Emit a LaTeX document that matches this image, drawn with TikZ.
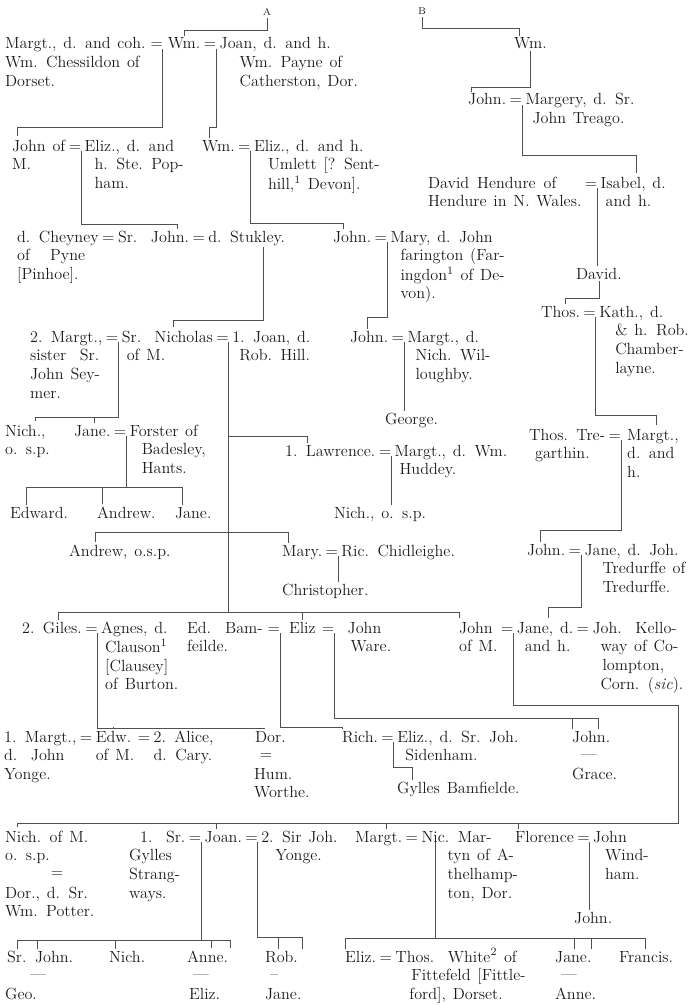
\documentclass[tikz,border=0pt]{standalone}
\usepackage{tikz}
\usetikzlibrary{positioning}
\definecolor{ink}{HTML}{1C1C1C}
\definecolor{rule}{HTML}{505050}
\newdimen\pxu \pxu=0.025cm
\newcommand{\indentby}[1]{\hspace*{#1\pxu}}
\newcommand{\pedfont}{\fontsize{11.5}{13.4}\selectfont\spaceskip=0.42em plus 0.1em minus 0.05em\relax}
\newcommand{\pedlines}[1]{\begin{tabular}[t]{@{}l@{}}#1\end{tabular}}

\begin{document}
\begin{tikzpicture}[
    x=0.025cm, y=-0.025cm,
    person/.style={anchor=base west, inner sep=0pt, outer sep=1.5pt, text=ink, font=\pedfont},
    wed/.style={anchor=base west, inner sep=0pt, outer sep=0pt, text=ink, font=\pedfont},
    tag/.style={inner sep=0pt, outer sep=2pt, text=ink, font=\fontsize{7}{8}\selectfont},
    link/.style={draw=rule, line width=0.5pt}
]
    \useasboundingbox (0,0) rectangle (692,1005);

    % Heads
    \node[tag] (hA) at (267,12) {A};
    \node[tag] (hB) at (422,11) {B};

    % Line A
    \node[person] (margtC) at (3,49) {\pedlines{Margt., d. and coh.\\Wm. Chessildon of\\Dorset.}};
    \node[wed, base right=2pt of margtC] (w1) {=};
    \node[person, base right=2pt of w1] (wmA) {Wm.};
    \node[wed, base right=1pt of wmA] (w2) {=};
    \node[person, base right=1pt of w2] (joanP) {\pedlines{Joan, d. and h.\\\indentby{20}Wm. Payne of\\\indentby{20}Catherston, Dor.}};

    \node[person] (johnM1) at (10,151) {\pedlines{John of\\M.}};
    \node[wed, base right=1pt of johnM1] (w3) {=};
    \node[person, base right=1pt of w3] (elizP) {\pedlines{Eliz., d. and\\\indentby{10}h. Ste. Pop-\\\indentby{10}ham.}};
    \node[person] (wmU) at (200,151) {Wm.};
    \node[wed, base right=1pt of wmU] (w4) {=};
    \node[person, base right=1pt of w4] (elizU) {\pedlines{Eliz., d. and h.\\\indentby{14}Umlett [? Sent-\\\indentby{14}hill,\textsuperscript{1} Devon].}};

    \node[person] (cheyney) at (15,242) {\pedlines{d. Cheyney\\of\ \ \ Pyne\\{[}Pinhoe].}};
    \node[wed, base right=1pt of cheyney] (w10) {=};
    \node[person, base right=1pt of w10] (johnS) {Sr.\ \ John.};
    \node[wed, base right=1pt of johnS] (w11) {=};
    \node[person, base right=1pt of w11] (stukley) {d. Stukley.};
    \node[person] (johnF) at (331,242) {John.};
    \node[wed, base right=1pt of johnF] (w12) {=};
    \node[person, base right=1pt of w12] (maryF) {\pedlines{Mary, d. John\\\indentby{10}farington (Far-\\\indentby{10}ingdon\textsuperscript{1} of De-\\\indentby{10}von).}};

    \node[person] (margtS) at (28,342) {\pedlines{2. Margt.,\\sister\ \ Sr.\\John Sey-\\mer.}};
    \node[wed, base right=1pt of margtS] (w13) {=};
    \node[person, base right=1pt of w13] (nicholas) {\pedlines{Sr.\ \ Nicholas\\\indentby{5}of M.}};
    \node[wed, base right=1pt of nicholas] (w14) {=};
    \node[person, base right=1pt of w14] (joanH) {\pedlines{1. Joan, d.\\\indentby{7}Rob. Hill.}};
    \node[person] (johnW) at (348,342) {John.};
    \node[wed, base right=1pt of johnW] (w15) {=};
    \node[person, base right=1pt of w15] (margtW) {\pedlines{Margt., d.\\\indentby{8}Nich. Wil-\\\indentby{8}loughby.}};
    \node[person] (george) at (383,424) {George.};

    \node[person] (nichS) at (3,436) {\pedlines{Nich.,\\o. s.p.}};
    \node[person] (janeF) at (72,436) {Jane.};
    \node[wed, base right=1pt of janeF] (w16) {=};
    \node[person, base right=1pt of w16] (forster) {\pedlines{Forster of\\\indentby{12}Badesley,\\\indentby{12}Hants.}};
    \node[person] (lawrence) at (283,456) {1. Lawrence.};
    \node[wed, base right=1pt of lawrence] (w17) {=};
    \node[person, base right=1pt of w17] (margtH) {\pedlines{Margt., d. Wm.\\\indentby{5}Huddey.}};

    \node[person] (edward) at (8,518) {Edward.};
    \node[person] (andrewF) at (95,518) {Andrew.};
    \node[person] (janeFo) at (173,518) {Jane.};
    \node[person] (nichL) at (332,518) {Nich., o. s.p.};
    \node[person] (andrewN) at (67,556) {Andrew, o.s.p.};
    \node[person] (maryN) at (280,556) {Mary.};
    \node[wed, base right=1pt of maryN] (w18) {=};
    \node[person, base right=1pt of w18] (ricC) {Ric. Chidleighe.};
    \node[person] (christopher) at (280,595) {Christopher.};

    \node[person] (giles) at (20,633) {2. Giles.};
    \node[wed, base right=1pt of giles] (w19) {=};
    \node[person, base right=1pt of w19] (agnes) {\pedlines{Agnes, d.\\\indentby{4}Clauson\textsuperscript{1}\\\indentby{4}{[}Clausey]\\\indentby{4}of Burton.}};
    \node[person] (edB) at (185,633) {\pedlines{Ed.\hspace{14\pxu}Bam-\\feilde.}};
    \node[wed, base right=2pt of edB] (w20) {=};
    \node[person, base right=5pt of w20] (elizN) {Eliz};
    \node[wed, base right=3pt of elizN] (w21) {=};
    \node[person, base right=8pt of w21] (johnWa) {\pedlines{John\\\indentby{3}Ware.}};
    \node[person] (johnM2) at (457,633) {\pedlines{John\\of M.}};
    \node[wed, base right=1pt of johnM2] (w22) {=};
    \node[person, base right=1pt of w22] (janeTr) {\pedlines{Jane, d.\\\indentby{8}and h.}};
    \node[wed, base right=1pt of janeTr] (w23) {=};
    \node[person, base right=1pt of w23] (kelloway) {\pedlines{Joh.\ \ Kello-\\\indentby{8}way of Co-\\\indentby{10}lompton,\\\indentby{8}Corn. (\textit{sic}).}};

    \node[person] (margtY) at (2,742) {\pedlines{1. Margt.,\\d.\ \ John\\Yonge.}};
    \node[wed, base right=1pt of margtY] (w24) {=};
    \node[person, base right=1pt of w24] (edw) {\pedlines{Edw.\\of M.}};
    \node[wed, base right=1pt of edw] (w25) {=};
    \node[person, base right=1pt of w25] (alice) {\pedlines{2. Alice,\\d. Cary.}};
    \node[person] (dorG) at (253,742) {Dor.};
    \node[wed, anchor=center] (w26) at (266,757) {=};
    \node[person] (worthe) at (252,779) {\pedlines{Hum.\\Worthe.}};
    \node[person] (rich) at (340,742) {Rich.};
    \node[wed, base right=1pt of rich] (w27) {=};
    \node[person, base right=1pt of w27] (elizS) {\pedlines{Eliz., d. Sr. Joh.\\\indentby{8}Sidenham.}};
    \node[person] (gylles) at (395,793) {Gylles Bamfielde.};
    \node[person] (johnG) at (570,742) {John.};
    \node[wed, anchor=center] (w28) at (589,757) {---};
    \node[person] (grace) at (570,779) {Grace.};

    \node[person] (nichM) at (3,842) {\pedlines{Nich. of M.\\o. s.p.}};
    \node[wed, anchor=center] (w29) at (57,875) {=};
    \node[person] (dorP) at (3,898) {\pedlines{Dor., d. Sr.\\Wm. Potter.}};
    \node[person] (gyllesS) at (127,842) {\pedlines{\indentby{11}1.\ \ Sr.\\Gylles\\Strang-\\ways.}};
    \node[wed, base right=1pt of gyllesS] (w30) {=};
    \node[person, base right=1pt of w30] (joanM) {Joan.};
    \node[wed, base right=1pt of joanM] (w31) {=};
    \node[person, base right=1pt of w31] (johnY) {\pedlines{2. Sir Joh.\\\indentby{14}Yonge.}};
    \node[person] (margtM) at (353,842) {Margt.};
    \node[wed, base right=1pt of margtM] (w32) {=};
    \node[person, base right=1pt of w32] (martyn) {\pedlines{Nic. Mar-\\\indentby{26}tyn of A-\\\indentby{26}thelhamp-\\\indentby{26}ton, Dor.}};
    \node[person] (florence) at (513,842) {Florence};
    \node[wed, base right=1pt of florence] (w33) {=};
    \node[person, base right=1pt of w33] (windham) {\pedlines{John\\\indentby{12}Wind-\\\indentby{12}ham.}};
    \node[person] (johnWi) at (572,923) {John.};

    \node[person] (johnSt) at (5,962) {Sr. John.};
    \node[wed, anchor=center] (w34) at (38,977) {---};
    \node[person] (geo) at (3,999) {Geo.};
    \node[person] (nichSt) at (107,962) {Nich.};
    \node[person] (anneS) at (185,962) {Anne.};
    \node[wed, anchor=center] (w35) at (201,977) {---};
    \node[person] (elizSt) at (187,999) {Eliz.};
    \node[person] (rob) at (263,962) {Rob.};
    \node[wed, anchor=center] (w36) at (274,977) {--};
    \node[person] (janeY) at (263,999) {Jane.};
    \node[person] (elizM) at (343,962) {Eliz.};
    \node[wed, base right=1pt of elizM] (w37) {=};
    \node[person, base right=1pt of w37] (thosW) {\pedlines{Thos.\ \ White\textsuperscript{2} of\\\indentby{16}Fittefeld [Fittle-\\\indentby{14}ford], Dorset.}};
    \node[person] (janeM) at (553,962) {Jane.};
    \node[wed, anchor=center] (w38) at (569,977) {---};
    \node[person] (anneM) at (553,999) {Anne.};
    \node[person] (francis) at (617,962) {Francis.};

    % Line B
    \node[person] (wmB) at (512,49) {Wm.};
    \node[person] (johnB) at (466,105) {John.};
    \node[wed, base right=1pt of johnB] (w5) {=};
    \node[person, base right=1pt of w5] (margeryT) {\pedlines{Margery, d. Sr.\\\indentby{7}John Treago.}};
    \node[person] (davidH) at (426,188) {\pedlines{David\hspace{8\pxu}Hendure\hspace{8\pxu}of\\Hendure in N. Wales.}};
    \node[wed, base right=1pt of davidH] (w6) {=};
    \node[person, base right=1pt of w6] (isabelT) {\pedlines{Isabel, d.\\\indentby{5}and h.}};
    \node[person] (davidB) at (574,279) {David.};
    \node[person] (thosB) at (539,317) {Thos.};
    \node[wed, base right=1pt of thosB] (w7) {=};
    \node[person, base right=1pt of w7] (kathC) {\pedlines{Kath., d.\\\indentby{16}\& h. Rob.\\\indentby{16}Chamber-\\\indentby{16}layne.}};
    \node[person] (thosT) at (527,440) {\pedlines{Thos. Tre-\\\indentby{6}garthin.}};
    \node[wed, base right=1pt of thosT] (w8) {=};
    \node[person, base right=3pt of w8] (margtB) {\pedlines{Margt.,\\d. and\\h.}};
    \node[person] (johnT) at (525,555) {John.};
    \node[wed, base right=1pt of johnT] (w9) {=};
    \node[person, base right=1pt of w9] (janeT) {\pedlines{Jane, d. Joh.\\\indentby{18}Tredurffe of\\\indentby{18}Tredurffe.}};

    % Descents, line A
    \coordinate (m11) at ([xshift=12pt]stukley.south);
    \coordinate (m32) at ([xshift=12pt]w32.south east);
    \draw[link] (hA.south) -- (hA.south |- 0,30) -| (wmA.north);
    \draw[link] (w1.south east) -- (w1.south east |- 0,127) -| ([xshift=5pt]johnM1.north west);
    \draw[link] (w2.south east) -- (w2.south east |- 0,127) -| ([xshift=7pt]wmU.north west);
    \draw[link] (w3.south east) -- (w3.south east |- 0,224) -| ([xshift=-10pt]johnS.north east);
    \draw[link] (w4.south east) -- (w4.south east |- 0,223) -| ([xshift=9pt]johnF.north west);
    \draw[link] (m11) -- (m11 |- 0,320) -| ([xshift=38pt]nicholas.north west);
    \draw[link] (w12.south east) -- (w12.south east |- 0,317) -| ([xshift=14pt]johnW.north west);
    \draw[link] (w13.south east) -- (w13.south east |- 0,417) -| ([xshift=23pt]nichS.north west);
    \draw[link] (w13.south east) -- (w13.south east |- 0,417) -| ([xshift=16pt]janeF.north west);
    \draw[link] (w14.south east) -- (w14.south east |- 0,436) -| ([xshift=17pt]lawrence.north west);
    \draw[link] (w14.south east) -- (w14.south east |- 0,532) -| ([xshift=20pt]andrewN.north west);
    \draw[link] (w14.south east) -- (w14.south east |- 0,532) -| ([xshift=6pt]maryN.north west);
    \draw[link] (w14.south east) -- (w14.south east |- 0,612) -| ([xshift=27pt]giles.north west);
    \draw[link] (w14.south east) -- (w14.south east |- 0,612) -| (elizN.north);
    \draw[link] (w14.south east) -- (w14.south east |- 0,612) -| ([xshift=2pt]johnM2.north west);
    \draw[link] (w15.south east) -- (george.north -| w15.south east);
    \draw[link] (w16.south east) -- (w16.south east |- 0,487) -| ([xshift=13pt]edward.north west);
    \draw[link] (w16.south east) -- (w16.south east |- 0,487) -| ([xshift=5pt]andrewF.north west);
    \draw[link] (w16.south east) -- (w16.south east |- 0,487) -| ([xshift=7pt]janeFo.north west);
    \draw[link] (w17.south east) -- (nichL.north -| w17.south east);
    \draw[link] (w18.south east) -- (christopher.north -| w18.south east);
    \draw[link] (w19.south east) -- (w19.south east |- 0,728) -| ([xshift=14pt]edw.north west);
    \draw[link] (w19.south east) -- (w19.south east |- 0,728) -| ([xshift=8pt]dorG.north west);
    \draw[link] (w20.south east) -- (w20.south east |- 0,727) -| ([xshift=2pt]rich.north west);
    \draw[link] (w21.south east) -- (w21.south east |- 0,718) -| ([xshift=2pt]johnG.north west);
    \draw[link] (w21.south east) -- (w21.south east |- 0,718) -| ([xshift=20pt]johnG.north west);
    \draw[link] (w27.south east) -- (w27.south east |- 0,767) -| ([xshift=12pt]gylles.north west);
    \draw[link] (w22.south east) -- (w22.south east |- 0,705) -- (678,705) -- (678,823) -| ([xshift=10pt]nichM.north west);
    \draw[link] (w22.south east) -- (w22.south east |- 0,705) -- (678,705) -- (678,823) -| ([xshift=10pt]joanM.north west);
    \draw[link] (w22.south east) -- (w22.south east |- 0,705) -- (678,705) -- (678,823) -| ([xshift=24pt]margtM.north west);
    \draw[link] (w22.south east) -- (w22.south east |- 0,705) -- (678,705) -- (678,823) -| ([xshift=4pt]florence.north west);
    \draw[link] (w30.south east) -- (w30.south east |- 0,940) -| ([xshift=9pt]johnSt.north west);
    \draw[link] (w30.south east) -- (w30.south east |- 0,940) -| ([xshift=23pt]johnSt.north west);
    \draw[link] (w30.south east) -- (w30.south east |- 0,940) -| ([xshift=6pt]nichSt.north west);
    \draw[link] (w30.south east) -- (w30.south east |- 0,940) -| ([xshift=19pt]anneS.north west);
    \draw[link] (w30.south east) -- (w30.south east |- 0,940) -| ([xshift=32pt]anneS.north west);
    \draw[link] (w31.south east) -- (w31.south east |- 0,937) -| ([xshift=11pt]rob.north west);
    \draw[link] (w31.south east) -- (w31.south east |- 0,937) -| ([xshift=28pt]rob.north west);
    \draw[link] (m32) -- (m32 |- 0,938) -| ([xshift=2pt]elizM.north west);
    \draw[link] (m32) -- (m32 |- 0,938) -| ([xshift=15pt]janeM.north west);
    \draw[link] (m32) -- (m32 |- 0,938) -| ([xshift=27pt]janeM.north west);
    \draw[link] (m32) -- (m32 |- 0,938) -| ([xshift=20pt]francis.north west);
    \draw[link] (w33.south east) -- (johnWi.north -| w33.south east);

    % Descents, line B
    \draw[link] (hB.south) -- (hB.south |- 0,28) -| ([xshift=5pt]wmB.north west);
    \draw[link] (wmB.south) -- (wmB.south |- 0,87) -| ([xshift=4pt]johnB.north west);
    \draw[link] (w5.south east) -- (w5.south east |- 0,155) -| ([xshift=27pt]isabelT.north west);
    \draw[link] (w6.south east) -- (davidB.north -| w6.south east);
    \draw[link] (davidB.south) -- (davidB.south |- 0,298) -| ([xshift=19pt]thosB.north west);
    \draw[link] (w7.south east) -- (w7.south east |- 0,415) -| ([xshift=22pt]margtB.north west);
    \draw[link] (w8.south east) -- (w8.south east |- 0,530) -| ([xshift=11pt]johnT.north west);
    \draw[link] (w9.south east) -- (w9.south east |- 0,607) -| ([xshift=24pt]janeTr.north west);
\end{tikzpicture}
\end{document}
